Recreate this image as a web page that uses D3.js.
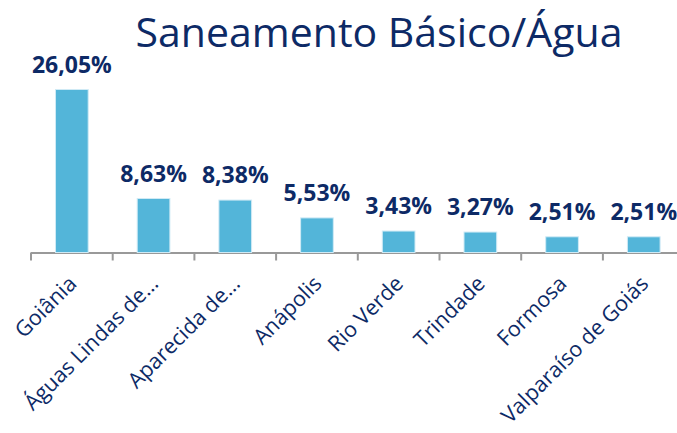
<!DOCTYPE html>
<html><head><meta charset="utf-8">
<script src="https://cdn.jsdelivr.net/npm/d3@7"></script>
<style>body{margin:0;background:#fff}svg{display:block}</style>
</head><body>
<script>
const title = "Saneamento Básico/Água";
const categories = ["Goiânia","Águas Lindas de…","Aparecida de…","Anápolis","Rio Verde","Trindade","Formosa","Valparaíso de Goiás"];
const values = [26.05, 8.63, 8.38, 5.53, 3.43, 3.27, 2.51, 2.51];
const valueLabels = ["26,05%","8,63%","8,38%","5,53%","3,43%","3,27%","2,51%","2,51%"];

const W = 677, H = 433;
const navy = "#0d2a66";
const svg = d3.select("body").append("svg").attr("width", W).attr("height", H);

const x = d3.scaleBand().domain(categories).range([31, 31 + 81.7 * 8]).paddingInner(0.6).paddingOuter(0.3);
const y = d3.scaleLinear().domain([0, 26.05]).range([252.5, 89.5]);

svg.append("text").attr("x", 379).attr("y", 47).attr("text-anchor", "middle")
  .attr("font-family", "Open Sans").attr("font-size", 41).attr("fill", navy).text(title);

// axis
const axis = d3.axisBottom(x).tickSize(8).tickSizeOuter(0).tickFormat("");
const gx = svg.append("g").attr("transform", "translate(0,252.5)").call(axis);
gx.select(".domain").attr("stroke", "#999").attr("stroke-width", 2)
  .attr("d", `M${x.range()[0]},0.5H${W}`);
gx.selectAll(".tick").remove();
const step = x.step();
d3.range(9).forEach(i => {
  gx.append("line").attr("x1", 31 + i*step).attr("x2", 31 + i*step).attr("y1", 0).attr("y2", 8)
    .attr("stroke", "#999").attr("stroke-width", 2);
});

svg.selectAll("rect.bar").data(values).join("rect").attr("class","bar")
  .attr("x", (d,i) => x(categories[i]))
  .attr("width", x.bandwidth())
  .attr("y", d => y(d))
  .attr("height", d => y(0) - y(d))
  .attr("fill", "#53b5d9").attr("stroke", "#cfeaf5").attr("stroke-width", 1);

svg.selectAll("text.val").data(values).join("text").attr("class","val")
  .attr("x", (d,i) => x(categories[i]) + x.bandwidth()/2)
  .attr("y", d => y(d) - 17)
  .attr("text-anchor", "middle")
  .attr("font-family", "Open Sans").attr("font-weight", "bold").attr("font-size", 23)
  .attr("fill", navy).text((d,i) => valueLabels[i]);

svg.selectAll("text.cat").data(categories).join("text").attr("class","cat")
  .attr("transform", d => `translate(${x(d) + x.bandwidth()/2 + 6},285) rotate(-45)`)
  .attr("text-anchor", "end")
  .attr("font-family", "Open Sans").attr("font-size", 21.5)
  .attr("fill", navy).text(d => d);
</script>
</body></html>
